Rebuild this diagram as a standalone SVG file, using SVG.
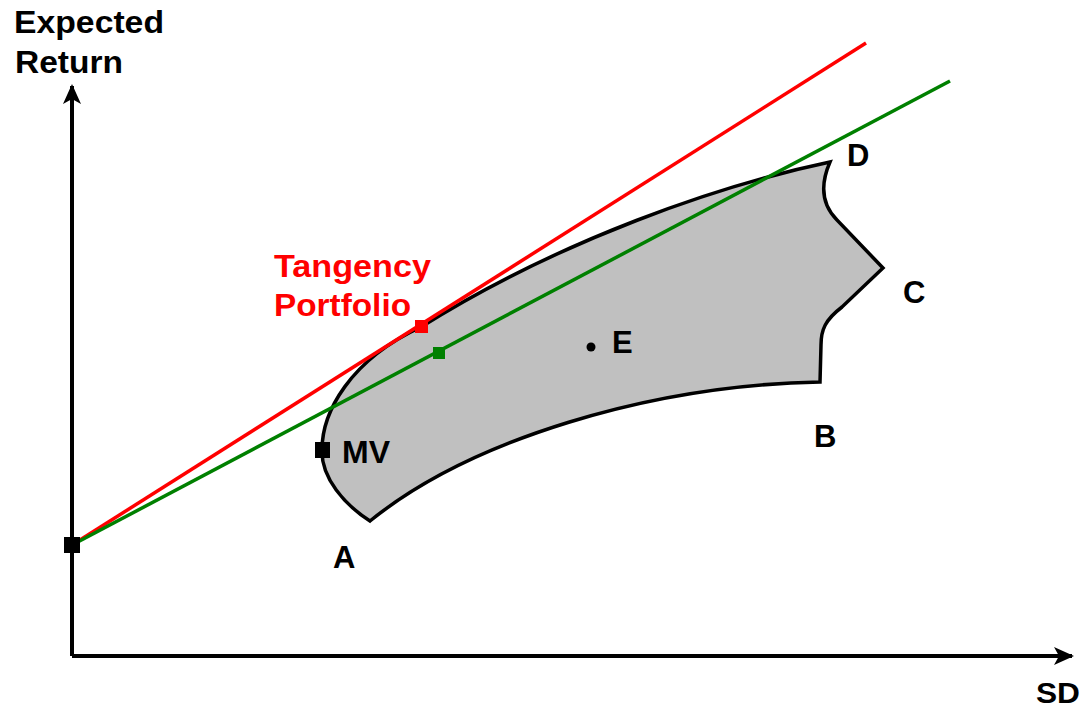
<svg xmlns="http://www.w3.org/2000/svg" width="1085" height="711" viewBox="0 0 1085 711">
<style>
.lbl{font-family:"Liberation Sans",Arial,sans-serif;font-weight:bold;font-size:31px;fill:#000}
.red{fill:#ff0000}
.axis{stroke:#000;stroke-width:4;fill:none}
</style>
<defs>
<marker id="ah" viewBox="0 0 24 20" refX="20" refY="10" markerWidth="24" markerHeight="20" markerUnits="userSpaceOnUse" orient="auto">
<path d="M2,1 L22,10 L2,19 L7,10 Z" fill="#000"/>
</marker>
</defs>
<rect width="1085" height="711" fill="#fff"/>
<g id="axes">
<line class="axis" x1="72" y1="656" x2="72" y2="86" marker-end="url(#ah)"/>
<line class="axis" x1="72" y1="656" x2="1072" y2="656" marker-end="url(#ah)"/>
</g>
<g id="region">
<path d="M370,521 C345,505 321,478 322,450 C322,412 350,360 421,327 C560,240 720,185 830,162 C820,185 822,205 837,220 L883,268 L842,307 C825,320 821,330 821,345 L820,382 C650,385 470,440 370,521 Z" fill="#c0c0c0" stroke="#000" stroke-width="3.5" stroke-linejoin="miter"/>
</g>
<g id="connectors">
<line x1="72" y1="545" x2="866" y2="43" stroke="#ff0000" stroke-width="3.5"/>
<line x1="72" y1="545" x2="950" y2="81" stroke="#008000" stroke-width="3.5"/>
</g>
<g id="origin"><rect x="64" y="537" width="16" height="16" fill="#000"/></g>
<g id="tangency"><rect x="415" y="320" width="13" height="13" fill="#ff0000"/></g>
<g id="green-pt"><rect x="433" y="347" width="12" height="12" fill="#008000"/></g>
<g id="mv"><rect x="315" y="442" width="15" height="16" fill="#000"/></g>
<g id="e-pt"><circle cx="591" cy="347" r="4.5" fill="#000"/></g>
<g id="labels">
<text class="lbl" x="14" y="33" textLength="150" lengthAdjust="spacingAndGlyphs">Expected</text>
<text class="lbl" x="15" y="73" textLength="108" lengthAdjust="spacingAndGlyphs">Return</text>
<text class="lbl red" x="274" y="277" textLength="157" lengthAdjust="spacingAndGlyphs">Tangency</text>
<text class="lbl red" x="274" y="316" textLength="137" lengthAdjust="spacingAndGlyphs">Portfolio</text>
<text class="lbl" x="342" y="463" textLength="48" lengthAdjust="spacingAndGlyphs">MV</text>
<text class="lbl" x="612" y="353">E</text>
<text class="lbl" x="333" y="568">A</text>
<text class="lbl" x="814" y="447">B</text>
<text class="lbl" x="903" y="303">C</text>
<text class="lbl" x="847" y="166">D</text>
<text class="lbl" x="1036" y="703" style="font-size:29px" textLength="44" lengthAdjust="spacingAndGlyphs">SD</text>
</g>
</svg>
